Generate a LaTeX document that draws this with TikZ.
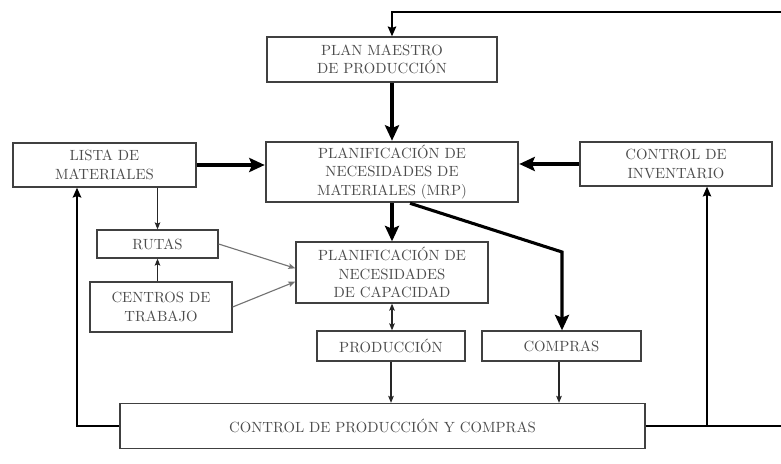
\documentclass[tikz,border=0pt]{standalone}
\usepackage{fontspec}
\usetikzlibrary{arrows.meta}

\begin{document}
\begin{tikzpicture}[x=0.025cm,y=-0.025cm,
  >={Stealth[length=5pt,width=4pt,inset=1pt]},
  box/.style={draw=black!75,line width=0.9pt,align=center,inner sep=0pt,
    font=\fontsize{10.5}{13}\selectfont\addfontfeature{LetterSpace=4},text=black!70},
  heavy/.style={line width=2.2pt,-{Stealth[length=11pt,width=10pt,inset=2pt]}},
  feed/.style={line width=1.4pt,->,>={Stealth[length=7pt,width=6pt,inset=1pt]}},
  slim/.style={line width=0.8pt,->,draw=black!85},
  grey/.style={line width=0.8pt,->,draw=black!55}]
  \useasboundingbox (0,0) rectangle (781,464);

  \node[box, minimum width=5.75cm, minimum height=1.125cm] (1) at (382,59.5) {PLAN MAESTRO\\ DE PRODUCCIÓN};
  \node[box, line width=1.8pt, minimum width=6.3cm, minimum height=1.5cm] (2) at (392,172) {PLANIFICACIÓN DE\\ NECESIDADES DE\\ MATERIALES (MRP)};
  \node[box, minimum width=4.575cm, minimum height=1.1cm] (3) at (104.5,165) {LISTA DE\\ MATERIALES};
  \node[box, minimum width=4.8cm, minimum height=1.1cm] (4) at (676,164) {CONTROL DE\\ INVENTARIO};
  \node[box, minimum width=3.025cm, minimum height=0.7cm] (5) at (157.5,244) {RUTAS};
  \node[box, minimum width=3.55cm, minimum height=1.25cm] (6) at (161,307) {CENTROS DE\\ TRABAJO};
  \node[box, minimum width=4.8cm, minimum height=1.525cm] (7) at (392,272.5) {PLANIFICACIÓN DE\\ NECESIDADES\\ DE CAPACIDAD};
  \node[box, minimum width=3.7cm, minimum height=0.75cm] (8) at (391,346) {PRODUCCIÓN};
  \node[box, minimum width=3.975cm, minimum height=0.75cm] (9) at (561.5,346) {COMPRAS};
  \node[box, minimum width=13.125cm, minimum height=1.125cm] (10) at (382.5,426) {CONTROL DE PRODUCCIÓN Y COMPRAS};

  % bends of the loops
  \coordinate (k) at (562,252);
  \coordinate (t) at (392,12);
  \coordinate (r) at (786,12);
  \coordinate (l) at (77,0);
  \coordinate (i) at (707,0);

  \draw[heavy] (1.south -| 2) -- (2.north);
  \draw[heavy] (3.east) -- (3.east -| 2.west);
  \draw[heavy] (4.west) -- (4.west -| 2.east);
  \draw[heavy] (2.south) -- (7.north);
  \draw[heavy] (2.south) ++(18,0) -- (k) -- (k |- 9.north);

  \draw[slim] (3.south -| 5) -- (5.north);
  \draw[slim] (6.north -| 5) -- (5.south);
  \draw[grey] (5.east) -- ([yshift=3pt]7.west);
  \draw[grey] (6.east) -- ([yshift=-6.5pt]7.west);
  \draw[slim, <->] (7.south) -- (7.south |- 8.north);
  \draw[slim] (8.south) -- (8.south |- 10.north);
  \draw[slim] (9.south -| 559,0) -- (559,0 |- 10.north);

  % feedback
  \draw[feed, line width=2pt] (10.west) -| (l |- 3.south);
  \draw[feed, line width=1pt] (i |- 10.east) -- (i |- 4.south);
  \draw[feed] (10.east) -| (r) -- (t) -- (t |- 1.north);
\end{tikzpicture}
\end{document}
